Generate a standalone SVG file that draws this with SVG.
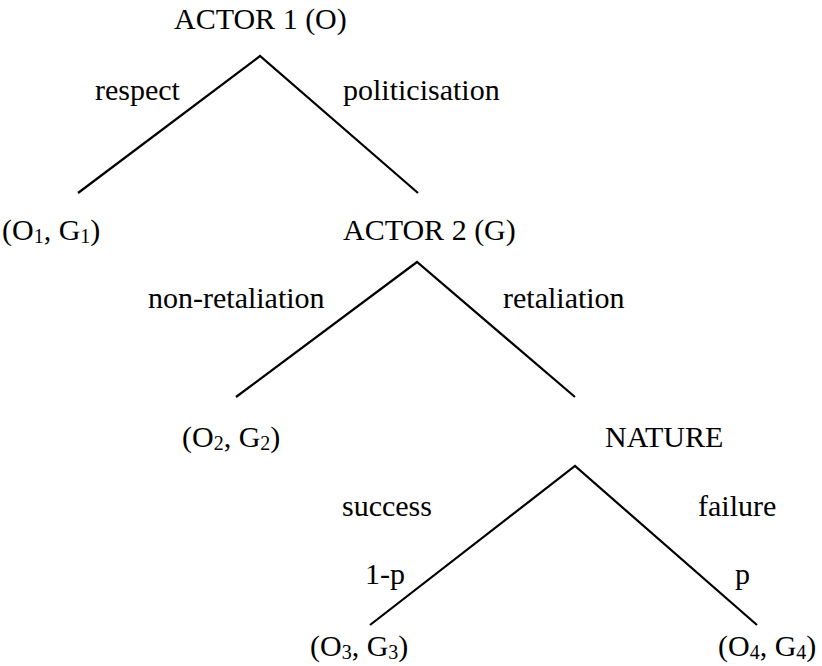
<svg xmlns="http://www.w3.org/2000/svg" width="822" height="666" viewBox="0 0 822 666">
<style>
text{font-family:"Liberation Serif","Times New Roman",serif;font-size:30px;fill:#000}
.sub{font-size:20px}
.edge{stroke:#000;stroke-width:2.2;fill:none}
</style>
<rect width="822" height="666" fill="#fff"/>
<g id="connectors">
<polyline class="edge" points="78,193 260,56 418,193"/>
<polyline class="edge" points="236,397 417,262 575,397"/>
<polyline class="edge" points="370,625 575,466 757,625"/>
</g>
<g id="actor1"><text x="174" y="29">ACTOR 1 (O)</text></g>
<g id="label-respect"><text x="95" y="100">respect</text></g>
<g id="label-politicisation"><text x="343" y="100">politicisation</text></g>
<g id="payoff1"><text x="2" y="240">(O<tspan class="sub" dy="3">1</tspan><tspan dy="-3">, G</tspan><tspan class="sub" dy="3">1</tspan><tspan dy="-3">)</tspan></text></g>
<g id="actor2"><text x="343" y="240">ACTOR 2 (G)</text></g>
<g id="label-nonretaliation"><text x="148" y="308">non-retaliation</text></g>
<g id="label-retaliation"><text x="503" y="308">retaliation</text></g>
<g id="payoff2"><text x="182" y="447">(O<tspan class="sub" dy="3">2</tspan><tspan dy="-3">, G</tspan><tspan class="sub" dy="3">2</tspan><tspan dy="-3">)</tspan></text></g>
<g id="nature"><text x="605" y="447">NATURE</text></g>
<g id="label-success"><text x="342" y="516">success</text></g>
<g id="label-failure"><text x="698" y="516">failure</text></g>
<g id="prob-success"><text x="365" y="584">1-p</text></g>
<g id="prob-failure"><text x="735" y="584">p</text></g>
<g id="payoff3"><text x="310" y="656">(O<tspan class="sub" dy="3">3</tspan><tspan dy="-3">, G</tspan><tspan class="sub" dy="3">3</tspan><tspan dy="-3">)</tspan></text></g>
<g id="payoff4"><text x="718" y="656">(O<tspan class="sub" dy="3">4</tspan><tspan dy="-3">, G</tspan><tspan class="sub" dy="3">4</tspan><tspan dy="-3">)</tspan></text></g>
</svg>
